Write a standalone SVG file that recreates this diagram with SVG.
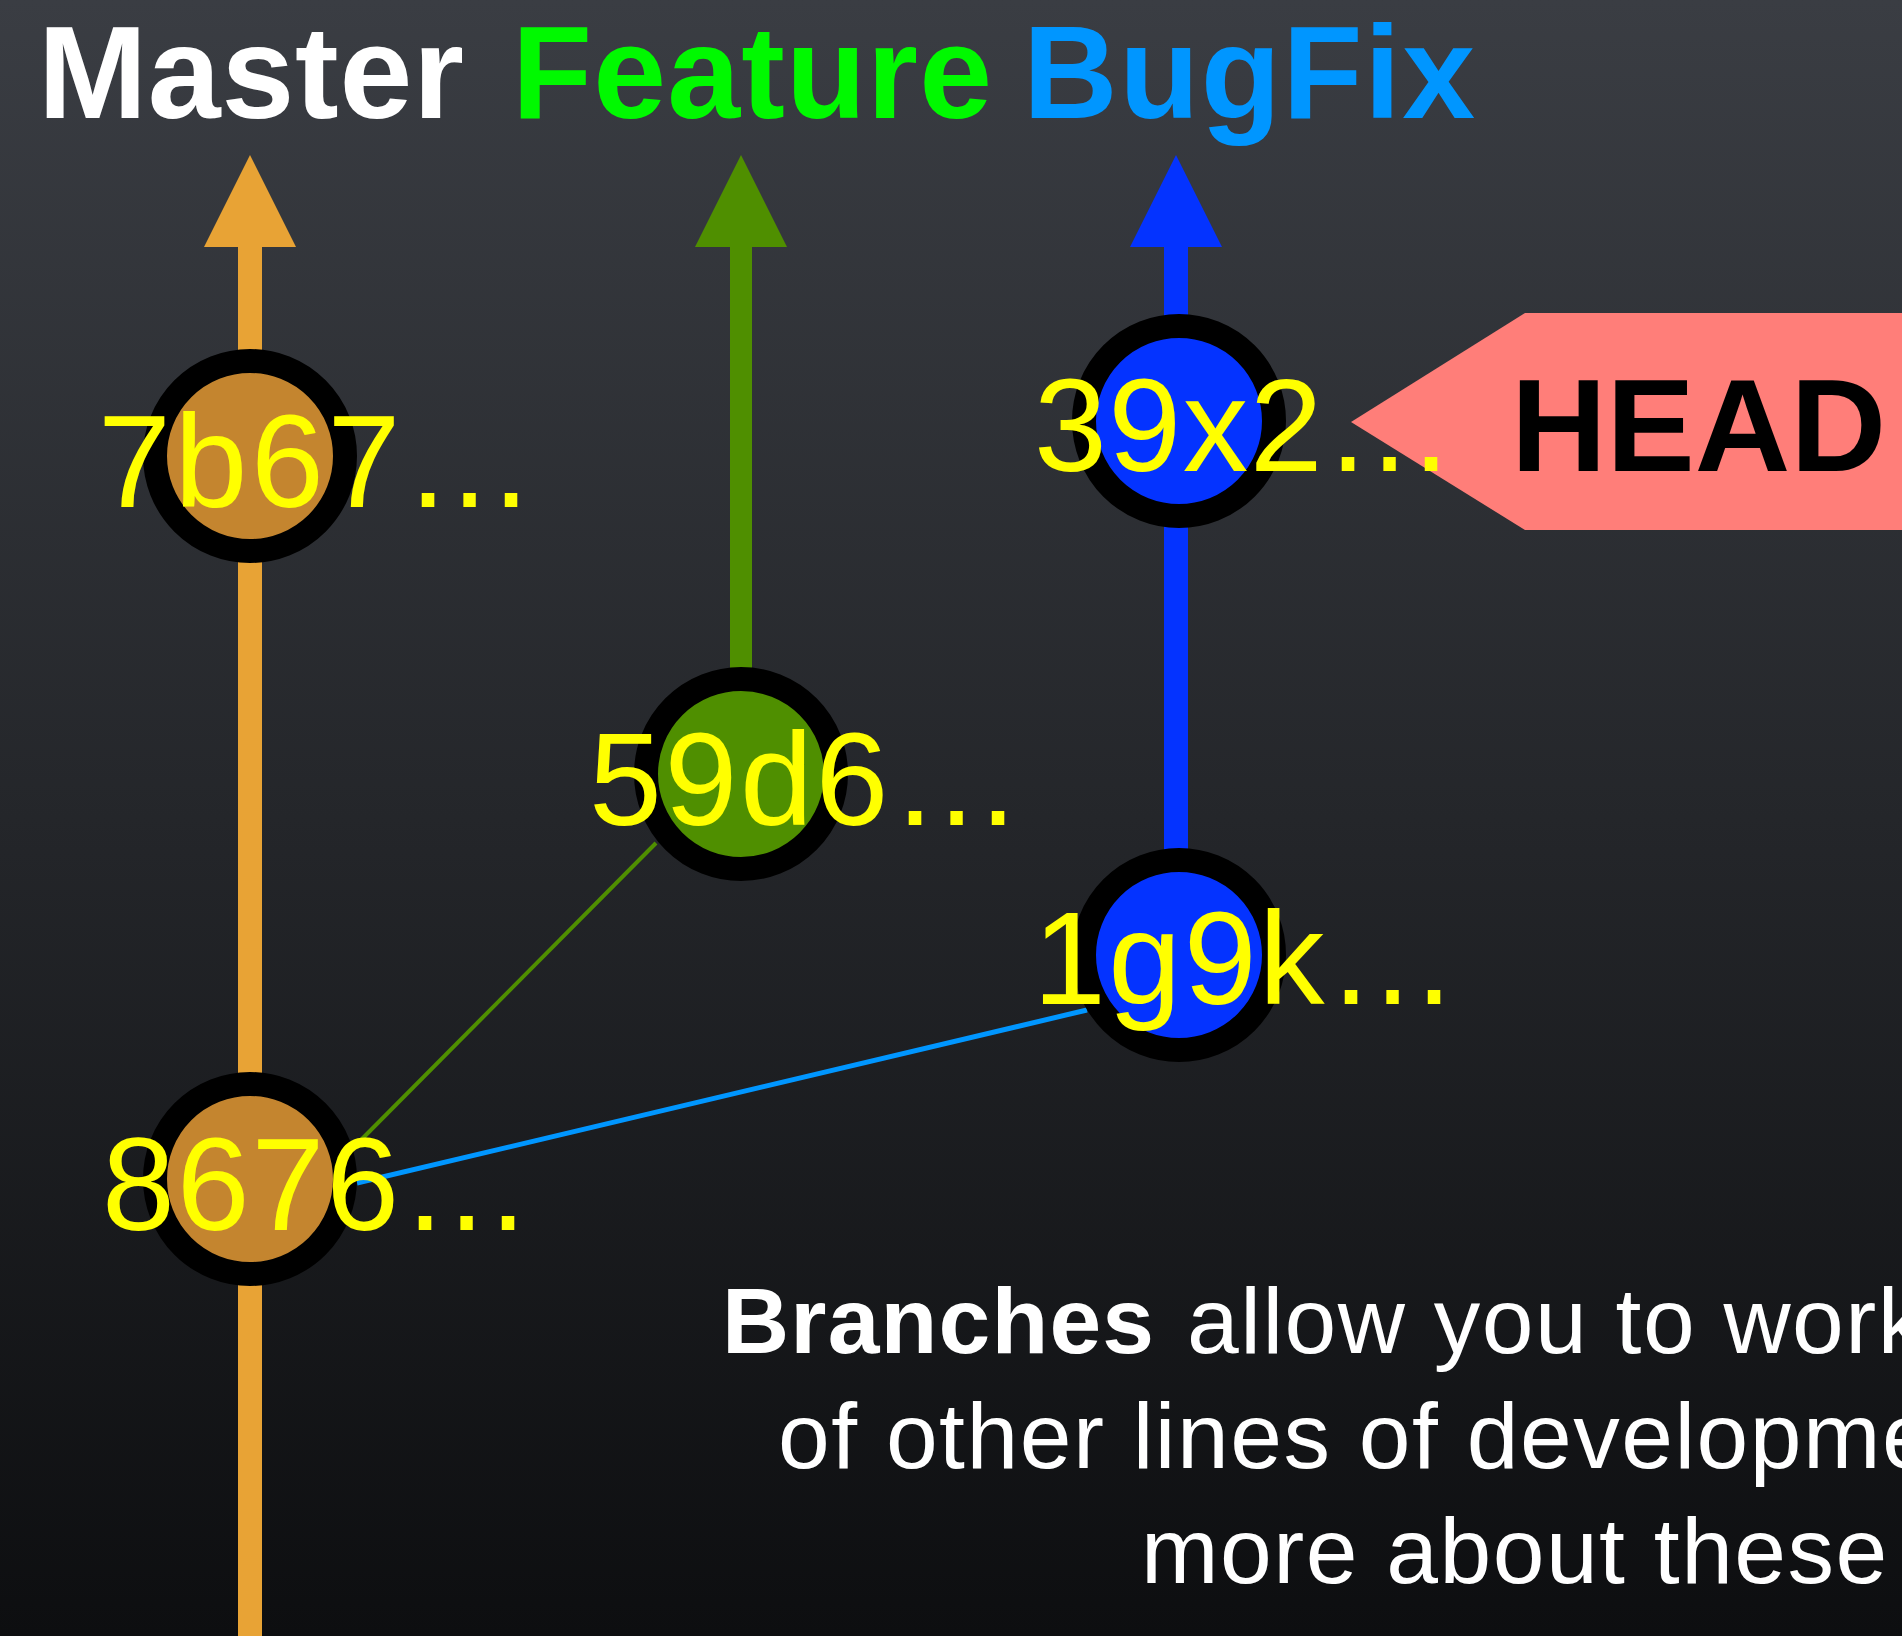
<svg xmlns="http://www.w3.org/2000/svg" width="1902" height="1636" viewBox="0 0 1902 1636">
  <defs>
    <linearGradient id="bg" x1="0" y1="0" x2="0" y2="1">
      <stop offset="0" stop-color="#3a3d43"/>
      <stop offset="0.5" stop-color="#24262a"/>
      <stop offset="1" stop-color="#0d0e10"/>
    </linearGradient>
    <style>
      .title { font-family: "Liberation Sans", Arial, sans-serif; font-weight: bold; font-size: 131px; }
      .lbl { font-family: "Liberation Sans", Arial, sans-serif; font-size: 131px; fill: #ffff00; }
      .ring { stroke: #000; stroke-width: 24; }
      .master { fill: #c4852f; }
      .feature { fill: #4f8f00; }
      .bugfix { fill: #0433ff; }
      .para { font-family: "Liberation Sans", Arial, sans-serif; font-size: 93px; fill: #ffffff; letter-spacing: 1.5px; }
    </style>
  </defs>
  <rect x="0" y="0" width="1902" height="1636" fill="url(#bg)"/>

  <g id="titles">
    <text class="title" x="38" y="118" fill="#ffffff" textLength="426">Master</text>
    <text class="title" x="512" y="118" fill="#00f900" textLength="480">Feature</text>
    <text class="title" x="1023" y="118" fill="#0096ff" textLength="452">BugFix</text>
  </g>

  <g id="connectors">
    <line x1="250" y1="240" x2="250" y2="1636" stroke="#e8a335" stroke-width="24"/>
    <polygon points="250,155 296,247 204,247" fill="#e8a335"/>
    <line x1="741" y1="240" x2="741" y2="774" stroke="#4f8f00" stroke-width="22"/>
    <polygon points="741,155 787,247 695,247" fill="#4f8f00"/>
    <line x1="1176" y1="240" x2="1176" y2="955" stroke="#0433ff" stroke-width="24"/>
    <polygon points="1176,155 1222,247 1130,247" fill="#0433ff"/>
    <line x1="353" y1="1148" x2="656" y2="843" stroke="#4f8f00" stroke-width="4"/>
    <line x1="357" y1="1183" x2="1087" y2="1010" stroke="#0096ff" stroke-width="5"/>
  </g>

  <g id="head">
    <polygon points="1351,422 1525,313 1902,313 1902,530 1525,530" fill="#ff7e79"/>
    <text x="1511" y="471" font-family="'Liberation Sans', Arial, sans-serif" font-weight="bold" font-size="132" fill="#000" textLength="375" lengthAdjust="spacingAndGlyphs">HEAD</text>
  </g>

  <g id="node-7b67">
    <circle cx="250" cy="456" r="95" class="ring master"/>
    <text class="lbl" x="98" y="507" textLength="437">7b67…</text>
  </g>
  <g id="node-8676">
    <circle cx="250" cy="1179" r="95" class="ring master"/>
    <text class="lbl" x="102" y="1230" textLength="430">8676…</text>
  </g>
  <g id="node-59d6">
    <circle cx="741" cy="774" r="95" class="ring feature"/>
    <text class="lbl" x="589" y="825" textLength="433">59d6…</text>
  </g>
  <g id="node-39x2">
    <circle cx="1179" cy="421" r="95" class="ring bugfix"/>
    <text class="lbl" x="1034" y="471" textLength="421">39x2…</text>
  </g>
  <g id="node-1g9k">
    <circle cx="1179" cy="955" r="95" class="ring bugfix"/>
    <text class="lbl" x="1033" y="1004" textLength="425">1g9k…</text>
  </g>

  <g id="caption">
    <text x="722" y="1353" font-family="'Liberation Sans', Arial, sans-serif" font-weight="bold" font-size="93" fill="#ffffff" textLength="432">Branches</text>
    <text class="para" x="1187" y="1353">allow you to work</text>
    <text class="para" x="778" y="1468">of other lines of developme</text>
    <text class="para" x="1141" y="1583">more about these</text>
  </g>
</svg>
